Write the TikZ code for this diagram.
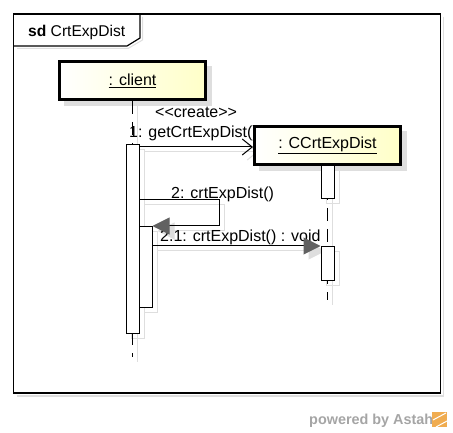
\documentclass[tikz,border=0pt]{standalone}
\usepackage{fontspec}
\setmainfont{Liberation Sans}
\usetikzlibrary{arrows.meta}
\definecolor{boxyellow}{RGB}{255,255,200}
\definecolor{shadowgray}{RGB}{222,222,222}
\definecolor{astahgray}{RGB}{165,165,165}
\definecolor{astahorange}{RGB}{240,172,80}
\begin{document}
\begin{tikzpicture}[x=1pt,y=-1pt, font=\fontsize{16pt}{19pt}\selectfont,
  lifebox/.style={draw=black, line width=3pt, left color=white, right color=boxyellow,
    minimum width=146pt, minimum height=38pt, inner sep=0pt},
  actbox/.style={draw=black, line width=1pt, fill=white, minimum width=13pt, inner sep=0pt},
  lifeline/.style={line width=1.2pt, dash pattern=on 13pt off 8pt},
  msg/.style={line width=1pt},
  lbl/.style={anchor=base west, inner sep=0pt},
  shadowln/.style={draw=shadowgray, line width=1pt},
  syncmsg/.style={-{Triangle[length=17pt,width=17pt,color=black!62]}},
  createmsg/.style={-{Straight Barb[length=10pt,width=16pt]}},
  shsync/.style={-{Triangle[length=17pt,width=17pt,color=shadowgray]}},
  shcreate/.style={-{Straight Barb[length=10pt,width=16pt,color=shadowgray]}}
]
\useasboundingbox (0,0) rectangle (453,433);

% coordinates
\coordinate (clientend) at (132.5,357);
\coordinate (ccrtend) at (327.5,300);
\coordinate (m1) at (0,147);
\coordinate (m2a) at (219,200);
\coordinate (m2b) at (219,226);
\coordinate (m3) at (0,246);

% frame shadow
\draw[shadowln, line width=1.5pt] (443.5,17) -- (443.5,396) -- (17,396);
% frame
\draw[line width=1.2pt] (13.5,14) rectangle (440.5,393);
\draw[shadowln] (17,48.5) -- (128,48.5) -- (142.5,40) -- (142.5,17);
\draw[line width=1.2pt] (13.5,46) -- (127,46) -- (140,38) -- (140,14);
\node[lbl, font=\fontsize{15.6pt}{18pt}\selectfont] (title) at (28,37) {\textbf{sd} CrtExpDist};

% box shadows
\fill[shadowgray] (64,66) rectangle (212,106);
\fill[shadowgray] (259,131) rectangle (407,171);

% shadows of lifelines, activations and messages
\begin{scope}[transform canvas={shift={(5pt,-5pt)}}]
  \draw[shadowln] (132.5,101) -- (clientend);
  \draw[shadowln] (327.5,166) -- (ccrtend);
  \draw[shadowln] (126,145) rectangle (139,333);
  \draw[shadowln] (139,227) rectangle (152,307);
  \draw[shadowln] (321,166) rectangle (334,199);
  \draw[shadowln] (321,247) rectangle (334,280);
  \draw[shadowln, shcreate] (139.5,147) -- (253,147);
  \draw[shadowln, shsync] (139.5,200) -- (m2a) -- (m2b) -- (152.5,226);
  \draw[shadowln, shsync] (152.5,246) -- (320.5,246);
\end{scope}

% labels
\node[lbl] (lcreate) at (155,118) {<{}<create>{}>};
\node[lbl] (l1) at (129,138) {1: getCrtExpDist()};
\node[lbl] (l2) at (171,199) {2: crtExpDist()};
\node[lbl] (l21) at (160,241) {2.1: crtExpDist() : void};

% lifeline heads
\node[lifebox] (client) at (132.5,80.5) {\underline{: client}};
\node[lifebox] (ccrt) at (327.5,145.5) {\underline{: CCrtExpDist}};

% lifelines
\draw[lifeline] (client.south) -- (clientend);
\draw[lifeline] (ccrt.south) -- (ccrtend);

% activations
\node[actbox, minimum height=188pt] (act1) at (132.5,239) {};
\node[actbox, minimum height=80pt] (act2) at (145.5,267) {};
\node[actbox, minimum height=33pt] (cc1) at (327.5,182.5) {};
\node[actbox, minimum height=33pt] (cc2) at (327.5,263.5) {};

% messages
\draw[msg, createmsg] (act1.east |- m1) -- (ccrt.west |- m1);
\draw[msg, syncmsg] (act1.east |- m2a) -- (m2a) -- (m2b) -- (act2.east |- m2b);
\draw[msg, syncmsg] (act2.east |- m3) -- (cc2.west |- m3);

% powered by
\node[lbl, text=astahgray, font=\fontsize{14.4pt}{16pt}\selectfont\bfseries] (powered) at (309,424) {powered by Astah};
\fill[astahorange] (432,412) rectangle (447,427);
\draw[white, line width=1pt] (433,420) -- (446,413) (436,427) -- (447,421);
\end{tikzpicture}
\end{document}
